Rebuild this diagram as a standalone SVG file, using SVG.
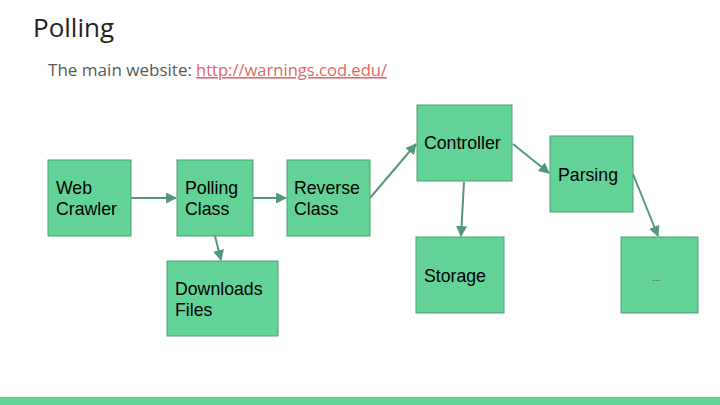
<svg xmlns="http://www.w3.org/2000/svg" width="720" height="405" viewBox="0 0 720 405">
<defs>
<style>
.box{fill:#63d297;stroke:#4f9e78;stroke-width:1}
.lbl{font-family:"Liberation Sans",Arial,sans-serif;font-size:17.7px;fill:#000}
.con{stroke:#54987a;stroke-width:2;fill:none;marker-end:url(#ah)}
.hd{font-family:"Open Sans",Lato,sans-serif}
</style>
<marker id="ah" viewBox="0 0 10 10" refX="9" refY="5" markerWidth="5.5" markerHeight="5.5" orient="auto" markerUnits="strokeWidth">
<path d="M0,0 L10,5 L0,10 z" fill="#54987a"/>
</marker>
</defs>
<rect width="720" height="405" fill="#fff"/>
<text class="hd" x="33" y="37" font-size="25" fill="#222" textLength="81" lengthAdjust="spacingAndGlyphs">Polling</text>
<text class="hd" x="48" y="76" font-size="15.5" fill="#595959" textLength="144" lengthAdjust="spacingAndGlyphs">The main website:</text>
<text class="hd" x="196" y="76" font-size="15.5" fill="#e06666" text-decoration="underline" textLength="191" lengthAdjust="spacingAndGlyphs">http://warnings.cod.edu/</text>
<g id="connectors">
<line class="con" x1="131" y1="198" x2="176" y2="198"/>
<line class="con" x1="253" y1="198" x2="286" y2="198"/>
<line class="con" x1="370" y1="198" x2="416" y2="144"/>
<line class="con" x1="513" y1="144" x2="549" y2="173"/>
<line class="con" x1="464" y1="182" x2="461" y2="236"/>
<line class="con" x1="633" y1="174" x2="658" y2="236"/>
<line class="con" x1="215" y1="236" x2="221" y2="260"/>
</g>
<g id="web-crawler"><rect class="box" x="48" y="160" width="83" height="76"/><text class="lbl" x="56" y="194">Web</text><text class="lbl" x="56" y="215">Crawler</text></g>
<g id="polling-class"><rect class="box" x="177" y="160" width="76" height="76"/><text class="lbl" x="185" y="194">Polling</text><text class="lbl" x="185" y="215">Class</text></g>
<g id="reverse-class"><rect class="box" x="287" y="160" width="83" height="76"/><text class="lbl" x="294" y="194">Reverse</text><text class="lbl" x="294" y="215">Class</text></g>
<g id="downloads-files"><rect class="box" x="167" y="261" width="111" height="75"/><text class="lbl" x="175" y="295">Downloads</text><text class="lbl" x="175" y="316">Files</text></g>
<g id="controller"><rect class="box" x="417" y="105" width="95" height="76"/><text class="lbl" x="424" y="149">Controller</text></g>
<g id="parsing"><rect class="box" x="550" y="136" width="83" height="76"/><text class="lbl" x="558" y="181">Parsing</text></g>
<g id="storage"><rect class="box" x="416" y="237" width="88" height="76"/><text class="lbl" x="424" y="282">Storage</text></g>
<g id="etc"><rect class="box" x="621" y="237" width="77" height="76"/><text x="652" y="281" font-family="'Liberation Sans',Arial,sans-serif" font-size="10" fill="#444">...</text></g>
<rect x="0" y="397" width="720" height="8" fill="#63d297"/>
</svg>
